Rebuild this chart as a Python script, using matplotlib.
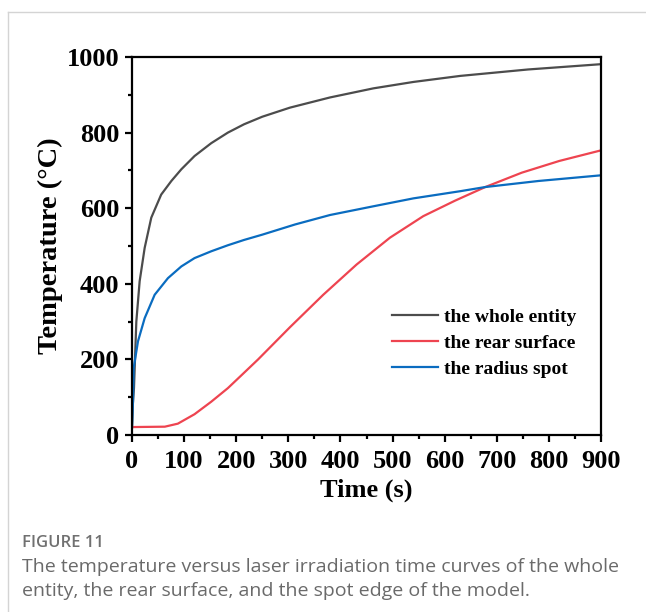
import matplotlib.pyplot as plt
from matplotlib.lines import Line2D
from matplotlib.ticker import MultipleLocator

# temperature curves read at irregular times (s, degC)
t_whole = [0, 1.5, 3.8, 8.3, 14.7, 24.3, 37, 56, 75.5, 94.7, 120, 152, 184, 215, 250, 303,
           380, 463, 540, 630, 760, 900]
T_whole = [20, 80, 124, 300, 407, 495, 575, 636, 672, 703, 738, 772, 800, 822, 842, 866,
           893, 917, 934, 950, 967, 981]

t_rear = [0, 63, 88, 120, 152, 184, 210, 242, 303, 367, 431, 495, 559, 620, 678, 748, 820, 900]
T_rear = [21, 22, 30, 55, 88, 124, 158, 200, 285, 371, 451, 522, 579, 620, 656, 694, 725, 753]

t_spot = [0, 1.9, 3.2, 11.5, 24.3, 43.5, 69, 94.7, 120, 152, 184, 215, 250, 313, 380, 463,
          540, 630, 678, 780, 900]
T_spot = [20, 88, 177, 248, 309, 371, 415, 446, 468, 486, 502, 516, 530, 557, 582, 605,
          626, 645, 656, 672, 687]

labels = ['the whole entity', 'the rear surface', 'the radius spot']
colors = ['#4c4c4c', '#ee4450', '#0a6cc0']

W, H = 646, 612
fig = plt.figure(figsize=(W / 100, H / 100), dpi=100)
fig.patch.set_facecolor('white')

# card border (top and left)
fig.add_artist(Line2D([8 / W, 1], [1 - 12 / H, 1 - 12 / H], transform=fig.transFigure,
                      color='#d4d4d4', lw=1.0))
fig.add_artist(Line2D([8 / W, 8 / W], [0, 1 - 12 / H], transform=fig.transFigure,
                      color='#d4d4d4', lw=1.0))

ax = fig.add_axes([132 / W, (H - 435) / H, 469 / W, 378 / H])
serif = 'Liberation Serif'

for t, T, lab, c in zip([t_whole, t_rear, t_spot], [T_whole, T_rear, T_spot], labels, colors):
    ax.plot(t, T, color=c, lw=1.6, label=lab, solid_joinstyle='round')

ax.set_xlim(0, 900)
ax.set_ylim(0, 1000)
ax.xaxis.set_major_locator(MultipleLocator(100))
ax.xaxis.set_minor_locator(MultipleLocator(50))
ax.yaxis.set_major_locator(MultipleLocator(200))
ax.yaxis.set_minor_locator(MultipleLocator(100))

for s in ax.spines.values():
    s.set_linewidth(1.6)
ax.tick_params(which='major', direction='out', length=5, width=1.6, pad=4)
ax.tick_params(axis='x', which='major', pad=6)
ax.tick_params(which='minor', direction='out', length=3, width=1.6)
ax.tick_params(top=False, right=False)

for lbl in ax.get_xticklabels() + ax.get_yticklabels():
    lbl.set_fontfamily(serif)
    lbl.set_fontweight('bold')
    lbl.set_fontsize(19)

ax.set_xlabel('Time (s)', fontfamily=serif, fontweight='bold', fontsize=19, labelpad=4)
ax.set_ylabel('Temperature (°C)', fontfamily=serif, fontweight='bold', fontsize=20.5, labelpad=3)

leg = ax.legend(loc='upper left', bbox_to_anchor=(0.554, 0.335), frameon=False,
                prop={'family': serif, 'weight': 'bold', 'size': 14},
                handlelength=2.4, handletextpad=0.26, labelspacing=0.42,
                borderpad=0, borderaxespad=0)

fig.text(22 / W, 1 - 543 / H, 'FIGURE 11', fontfamily='Open Sans', fontsize=12,
         fontweight='semibold', color='#707070', va='center')
fig.text(22 / W, 1 - 567 / H, 'The temperature versus laser irradiation time curves of the whole',
         fontfamily='Open Sans', fontsize=14, color='#6a6a6a', va='center')
fig.text(22 / W, 1 - 591 / H, 'entity, the rear surface, and the spot edge of the model.',
         fontfamily='Open Sans', fontsize=14, color='#6a6a6a', va='center')

fig.savefig('out.png', dpi=100)
